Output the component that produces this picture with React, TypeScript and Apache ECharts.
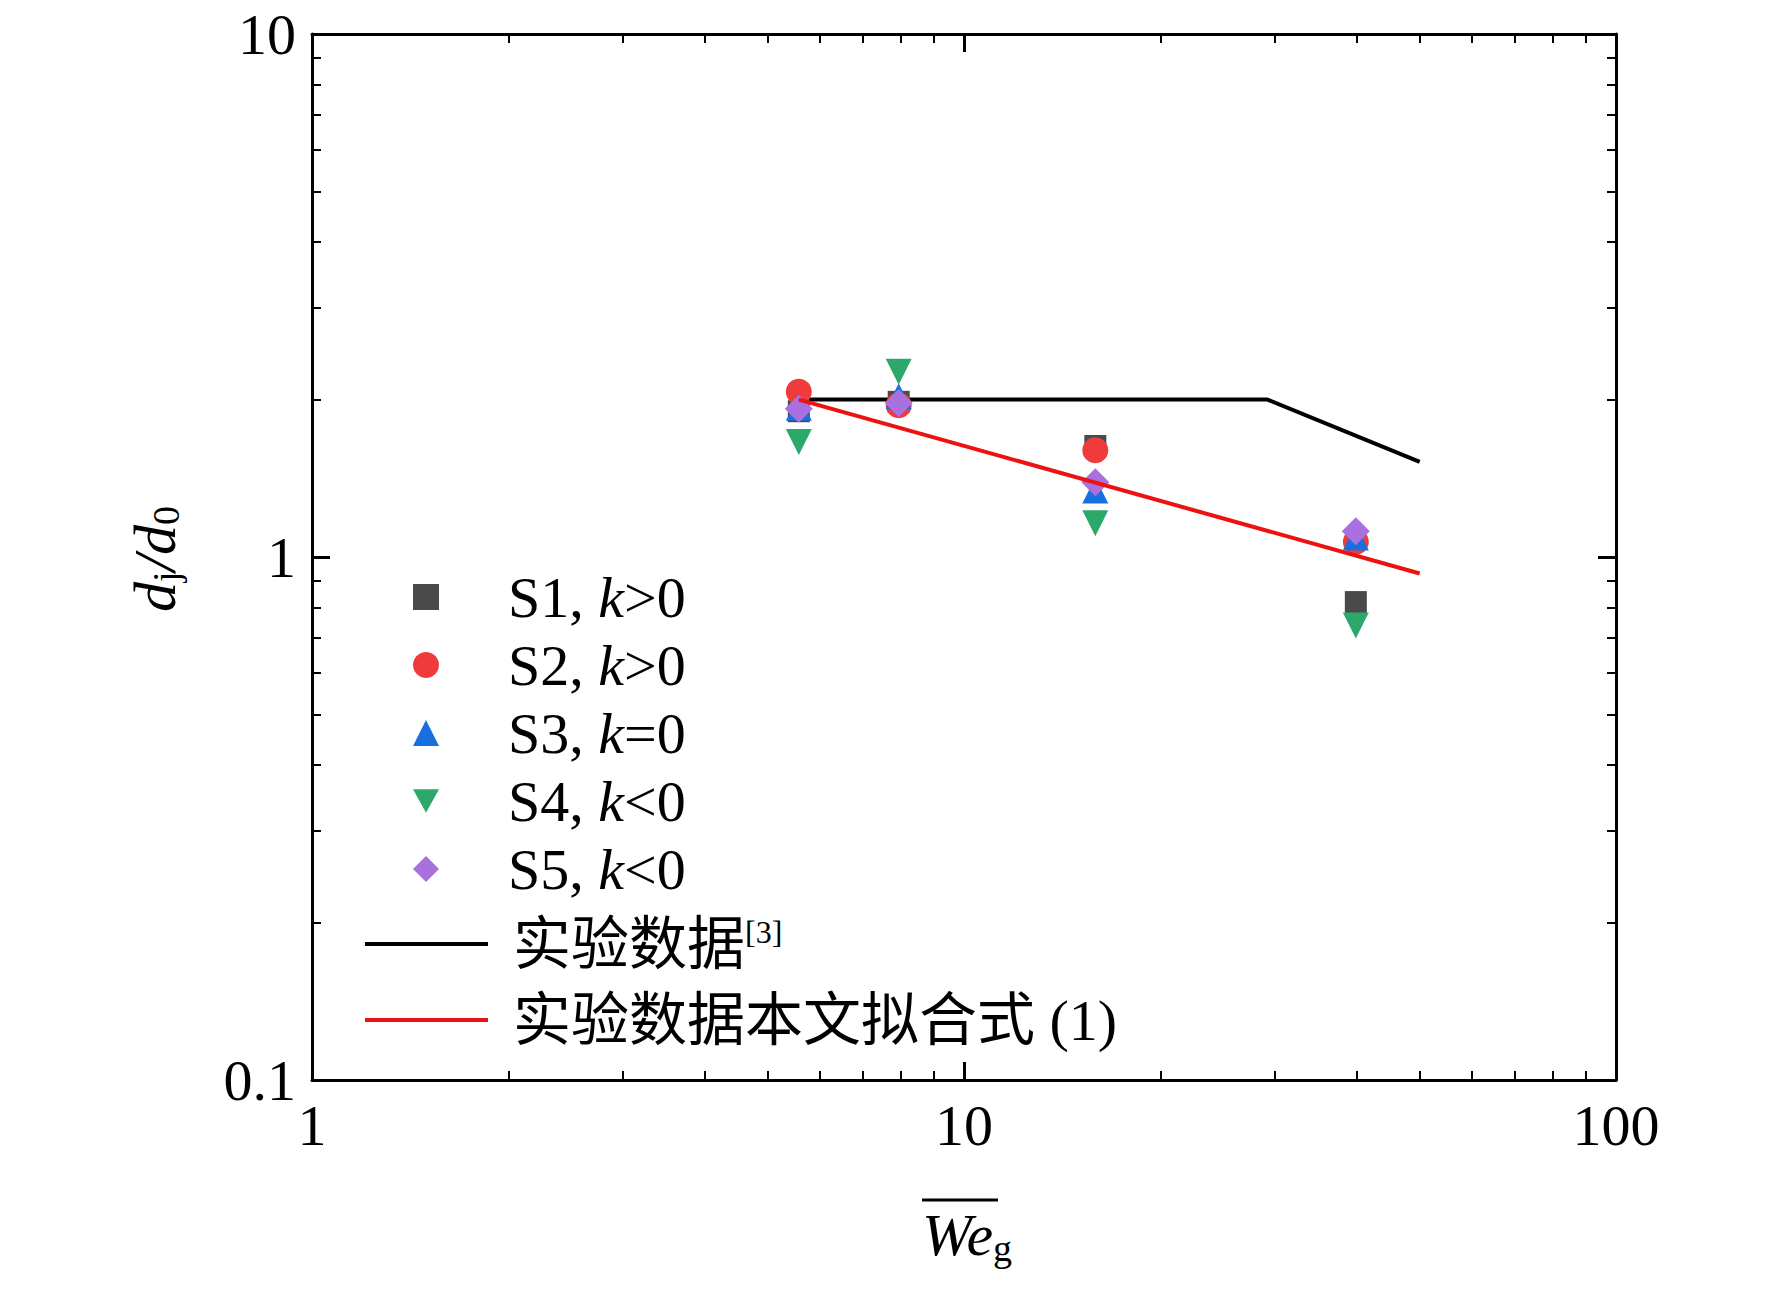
import React, { useEffect, useRef } from "react";
import * as echarts from "echarts";

const xs = [5.58, 7.94, 15.9, 39.9];
const s1 = [1.9, 1.98, 1.63, 0.82];
const s2 = [2.07, 1.95, 1.6, 1.07];
const s3 = [1.93, 2.03, 1.34, 1.09];
const s4 = [1.66, 2.26, 1.16, 0.74];
const s5 = [1.92, 1.97, 1.39, 1.12];
const expLine = [[5.58, 2.0], [29.2, 2.0], [50, 1.52]];
const fitLine = [[5.58, 2.0], [50, 0.93]];
const names = ["S1", "S2", "S3", "S4", "S5"];
const signs = [">0", ">0", "=0", "<0", "<0"];
const colors = ["#4a4a4a", "#ef3b3b", "#1a6fdf", "#2ca86a", "#a970e0"];
const symbols = ["rect", "circle", "triangle", "path://M0,0L10,0L5,9Z", "diamond"];
const sizes = [22, 26, 26, 26, 28];
const lineNames = ["实验数据", "实验数据本文拟合式 (1)"];

const F = "'Times New Roman', 'Liberation Serif', serif";
const FCJK = "'Times New Roman', 'Liberation Serif', 'Noto Sans CJK SC', serif";

export default function App() {
  const ref = useRef<HTMLDivElement>(null);
  useEffect(() => {
    const chart = echarts.init(ref.current!, undefined, { renderer: "svg" });
    const sets = [s1, s2, s3, s4, s5];
    const scatter = sets.map((s, i) => ({
      type: "scatter",
      name: names[i],
      data: xs.map((x, j) => [x, s[j]]),
      symbol: symbols[i],
      symbolSize: sizes[i],
      itemStyle: { color: colors[i], opacity: 1 },
      z: 3,
    }));
    const axisCommon = {
      type: "log",
      logBase: 10,
      axisLine: { lineStyle: { color: "#000", width: 3 } },
      axisTick: { inside: true, length: 18, lineStyle: { color: "#000", width: 3 } },
      minorTick: { show: true, splitNumber: 9, length: 9, lineStyle: { color: "#000", width: 2 } },
      splitLine: { show: false },
    };
    chart.setOption({
      animation: false,
      grid: { left: 312, right: 156, top: 34, bottom: 210 },
      xAxis: [
        { ...axisCommon, min: 1, max: 100, axisLabel: { fontFamily: F, fontSize: 58, color: "#000", margin: 16 } },
        { ...axisCommon, min: 1, max: 100, position: "top", axisLabel: { show: false } },
      ],
      yAxis: [
        { ...axisCommon, min: 0.1, max: 10, axisLabel: { fontFamily: F, fontSize: 58, color: "#000", margin: 16 } },
        { ...axisCommon, min: 0.1, max: 10, position: "right", axisLabel: { show: false } },
      ],
      legend: [
        {
          orient: "vertical",
          left: 408,
          top: 562,
          itemWidth: 26,
          itemHeight: 26,
          itemGap: 8,
          data: names,
          formatter: (n: string) => `{n|${n}, }{k|k}{n|${signs[names.indexOf(n)]}}`,
          textStyle: {
            padding: [0, 0, 0, 64],
            lineHeight: 60,
            rich: {
              n: { fontFamily: F, fontSize: 58, color: "#000" },
              k: { fontFamily: F, fontSize: 58, color: "#000", fontStyle: "italic" },
            },
          },
        },
        {
          orient: "vertical",
          left: 360,
          top: 906,
          itemWidth: 123,
          itemHeight: 4,
          itemGap: 10,
          data: lineNames.map((n) => ({ name: n, icon: "rect" })),
          formatter: (n: string) => (n === lineNames[0] ? `{n|${n}}{s|[3]}` : `{n|${n}}`),
          textStyle: {
            padding: [0, 0, 0, 20],
            lineHeight: 66,
            rich: {
              n: { fontFamily: FCJK, fontSize: 58, color: "#000" },
              s: { fontFamily: F, fontSize: 32, color: "#000", padding: [0, 0, 24, 0] },
            },
          },
        },
      ],
      graphic: [
        {
          type: "text",
          left: 922,
          top: 1205,
          style: {
            rich: {
              w: { fontFamily: F, fontSize: 60, fontStyle: "italic", fill: "#000" },
              g: { fontFamily: F, fontSize: 38, fill: "#000", padding: [26, 0, 0, 0] },
            },
            text: "{w|We}{g|g}",
          },
        },
        { type: "line", shape: { x1: 922, y1: 1200, x2: 998, y2: 1200 }, style: { stroke: "#000", lineWidth: 3 } },
        {
          type: "text",
          x: 155,
          y: 559,
          rotation: Math.PI / 2,
          style: {
            align: "center",
            verticalAlign: "middle",
            rich: {
              d: { fontFamily: F, fontSize: 60, fontStyle: "italic", fill: "#000" },
              s: { fontFamily: F, fontSize: 38, fill: "#000", padding: [22, 0, 0, 0] },
            },
            text: "{d|d}{s|j}{d|/d}{s|0}",
          },
        },
      ],
      series: [
        ...scatter,
        {
          type: "line",
          name: lineNames[0],
          data: expLine,
          symbol: "none",
          lineStyle: { color: "#000", width: 4 },
          itemStyle: { color: "#000" },
          z: 2,
        },
        {
          type: "line",
          name: lineNames[1],
          data: fitLine,
          symbol: "none",
          lineStyle: { color: "#ee1111", width: 4 },
          itemStyle: { color: "#ee1111" },
          z: 4,
        },
      ],
    });
    return () => chart.dispose();
  }, []);
  return <div ref={ref} style={{ position: "absolute", left: 0, top: 0, width: 1772, height: 1290 }} />;
}
